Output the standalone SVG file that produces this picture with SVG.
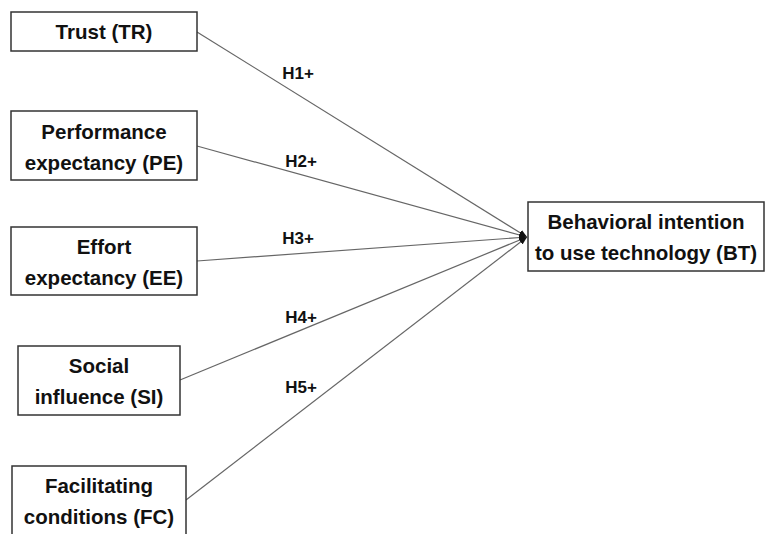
<svg xmlns="http://www.w3.org/2000/svg" width="765" height="534" viewBox="0 0 765 534">
<defs>
<marker id="ah" viewBox="0 0 10 8" refX="10" refY="4" markerWidth="8" markerHeight="6.4" markerUnits="userSpaceOnUse" orient="auto">
<path d="M0,0 L10,4 L0,8 Z" fill="#111"/>
</marker>
</defs>
<style>
.box{fill:#fff;stroke:#333;stroke-width:1.5}
.t{font-family:"Liberation Sans",Arial,sans-serif;font-weight:bold;font-size:20.5px;fill:#111;text-anchor:middle}
.lbl{font-family:"Liberation Sans",Arial,sans-serif;font-weight:bold;font-size:17px;fill:#111;text-anchor:middle}
.c{stroke:#666;stroke-width:1.2;fill:none;marker-end:url(#ah)}
</style>
<rect width="765" height="534" fill="#fff"/>
<g id="connectors">
<line class="c" x1="197" y1="32" x2="527" y2="237"/>
<line class="c" x1="197" y1="146" x2="527" y2="237"/>
<line class="c" x1="197" y1="261" x2="527" y2="237"/>
<line class="c" x1="180" y1="380" x2="527" y2="237"/>
<line class="c" x1="186" y1="500" x2="527" y2="237"/>
<text class="lbl" x="298" y="79">H1+</text>
<text class="lbl" x="301" y="167">H2+</text>
<text class="lbl" x="298" y="244">H3+</text>
<text class="lbl" x="301" y="323">H4+</text>
<text class="lbl" x="301" y="393">H5+</text>
</g>
<g id="TR">
<rect class="box" x="11" y="12" width="186" height="39"/>
<text class="t" x="104" y="39">Trust (TR)</text>
</g>
<g id="PE">
<rect class="box" x="11" y="111" width="186" height="69"/>
<text class="t" x="104" y="139">Performance</text>
<text class="t" x="104" y="170">expectancy (PE)</text>
</g>
<g id="EE">
<rect class="box" x="11" y="227" width="186" height="68"/>
<text class="t" x="104" y="254">Effort</text>
<text class="t" x="104" y="285">expectancy (EE)</text>
</g>
<g id="SI">
<rect class="box" x="18" y="346" width="162" height="69"/>
<text class="t" x="99" y="373">Social</text>
<text class="t" x="99" y="404">influence (SI)</text>
</g>
<g id="FC">
<rect class="box" x="12" y="466" width="174" height="80"/>
<text class="t" x="99" y="493">Facilitating</text>
<text class="t" x="99" y="524">conditions (FC)</text>
</g>
<g id="BT">
<rect class="box" x="528" y="202" width="236" height="69"/>
<text class="t" x="646" y="229">Behavioral intention</text>
<text class="t" x="646" y="260">to use technology (BT)</text>
</g>
</svg>
